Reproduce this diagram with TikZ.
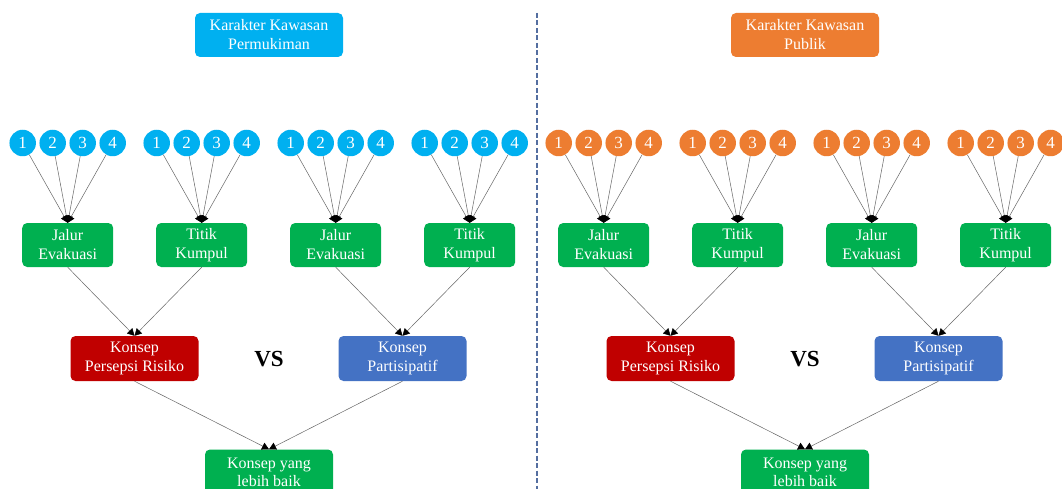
\documentclass[tikz,border=0pt]{standalone}
\usepackage{fontspec}
\setmainfont{Liberation Serif}
\usetikzlibrary{arrows.meta}
\definecolor{ccyan}{HTML}{00B0F0}
\definecolor{corange}{HTML}{ED7D31}
\definecolor{cgreen}{HTML}{00B050}
\definecolor{cred}{HTML}{C00000}
\definecolor{cblue}{HTML}{4472C4}
\definecolor{cdash}{RGB}{84,110,160}
\begin{document}
\begin{tikzpicture}[x=1pt,y=-1pt,
  box/.style={rounded corners=5pt, text=white, align=center,
    font=\fontsize{16}{19}\selectfont, inner sep=0pt},
  topbox/.style={box, minimum width=148pt, minimum height=44pt},
  gbox/.style={box, fill=cgreen, minimum width=91pt, minimum height=44pt},
  cbox/.style={box, minimum width=128pt, minimum height=45pt},
  num/.style={circle, inner sep=0pt, minimum size=26.5pt, text=white,
    font=\fontsize{17}{17}\selectfont},
  conn/.style={draw=black!60, line width=0.5pt,
    -{Triangle[length=7pt,width=7.5pt,color=black]}},
  vs/.style={font=\fontsize{23}{26}\selectfont\bfseries, text=black}]
\clip (0,0) rectangle (1062,489);
\fill[white] (0,0) rectangle (1062,489);
\draw[cdash, line width=1.3pt, dash pattern=on 5pt off 2.5pt] (537,13) -- (537,489);
\foreach \side/\off/\col/\title in {L/0/ccyan/{Karakter Kawasan\\Permukiman},R/536/corange/{Karakter Kawasan\\Publik}}{
  \node[topbox, fill=\col] (top\side) at (269+\off,35) {\title};
  \foreach \k/\lab in {0/{Jalur\\Evakuasi},1/{Titik\\Kumpul},2/{Jalur\\Evakuasi},3/{Titik\\Kumpul}}{
    \pgfmathsetmacro\gx{\off+67.7+134*\k}
    \node[gbox] (g\side\k) at (\gx,245) {\lab};
    \foreach \i/\dx in {1/-45,2/-15,3/15,4/45}{
      \node[num, fill=\col] (c\side\k\i) at (\gx+\dx,143) {\i};
      \draw[conn] (c\side\k\i) -- (g\side\k.north);
    }
  }
  \node[cbox, fill=cred] (r\side) at (134.5+\off,358.5) {Konsep\\Persepsi Risiko};
  \node[cbox, fill=cblue] (b\side) at (402.5+\off,358.5) {Konsep\\Partisipatif};
  \node[vs] (vs\side) at (269+\off,359) {VS};
  \node[cbox, fill=cgreen, font=\fontsize{16}{18}\selectfont] (f\side) at (269+\off,472) {Konsep yang\\lebih baik};
  \draw[conn] (g\side0.south) -- (r\side.north);
  \draw[conn] (g\side1.south) -- (r\side.north);
  \draw[conn] (g\side2.south) -- (b\side.north);
  \draw[conn] (g\side3.south) -- (b\side.north);
  \draw[conn] (r\side.south) -- (f\side.north);
  \draw[conn] (b\side.south) -- (f\side.north);
}
\end{tikzpicture}
\end{document}
